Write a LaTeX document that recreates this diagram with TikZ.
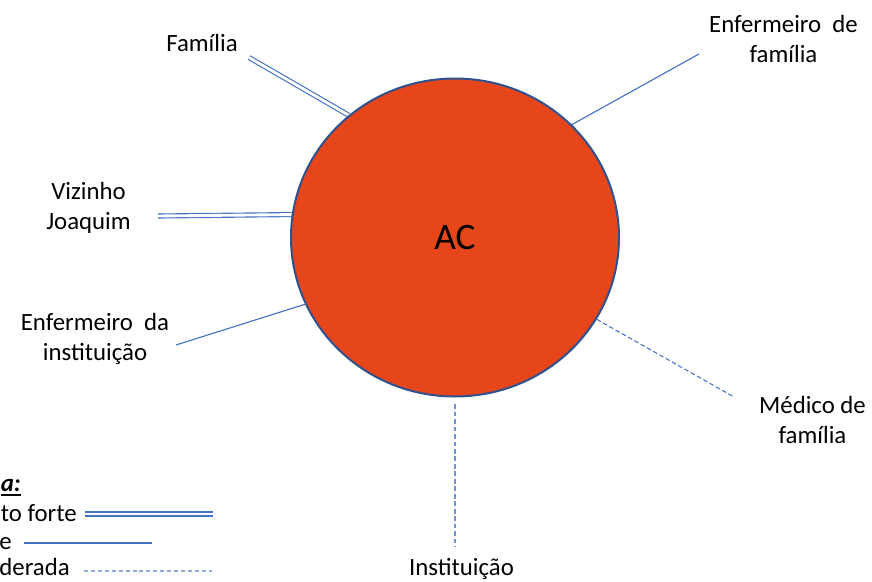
\documentclass[tikz,border=0pt]{standalone}
\usepackage{fontspec}
\setmainfont{Carlito}
\usetikzlibrary{shapes.geometric,backgrounds}
\definecolor{acfill}{RGB}{230,70,26}
\definecolor{acborder}{RGB}{47,82,143}
\definecolor{linkblue}{RGB}{68,114,196}
\definecolor{midblue}{RGB}{114,148,212}
\definecolor{lightblue}{RGB}{143,170,220}
\newcommand\legul[1]{\setbox0\hbox{#1}\rlap{\rule[-3.6pt]{\wd0}{1.4pt}}\box0}
\begin{document}
\begin{tikzpicture}[x=0.75pt,y=-0.75pt,
  lbl/.style={font=\fontsize{18.6}{22.5}\selectfont, align=center, inner sep=0pt},
  tie/.style={draw=linkblue, line width=0.85pt},
  strongtie/.style={draw=linkblue, line width=0.85pt, double=white, double distance=2.15pt},
  weaktie/.style={draw=linkblue, line width=0.8pt, dash pattern=on 3.4pt off 2pt},
  weakvert/.style={draw=midblue, line width=1.4pt, dash pattern=on 3.6pt off 2pt},
  legweakline/.style={draw=lightblue, line width=0.9pt, dash pattern=on 3pt off 2.2pt}]
\useasboundingbox (0,0) rectangle (872,582);

\node[ellipse, draw=acborder, line width=1.5pt, fill=acfill,
      minimum width=246pt, minimum height=238.5pt, inner sep=0pt,
      font=\fontsize{28}{34}\selectfont] (ac) at (455,237.5) {AC};

% labels
\node[lbl, anchor=base] (familia) at (202,51) {Família};
\node[lbl] (vizinho) at (88.5,207.5) {Vizinho\\Joaquim};
\node[lbl] (enfinst) at (95,338.5) {Enfermeiro\ \ da\\instituição};
\node[lbl] (enffam) at (783.5,39) {Enfermeiro\ \ de\\família};
\node[lbl] (medico) at (812.5,419.5) {Médico de\\família};
\node[lbl, anchor=base] (inst) at (461.5,575) {Instituição};

% free ends
\coordinate (famend) at (249,57.5);
\coordinate (vizend) at (158,216);
\coordinate (einend) at (176,345);
\coordinate (efaend) at (699,54);
\coordinate (medend) at (734,397);
\coordinate (insend) at (455,547);

\begin{scope}[on background layer]
  \draw[strongtie] (ac.131.5) -- (famend);
  \draw[strongtie] (ac.172.7) -- (vizend);
  \draw[tie] (ac.204.7) -- (einend);
  \draw[tie] (ac.44) -- (efaend);
  \draw[weaktie] (ac.330.5) -- (medend);
  \draw[weakvert, shorten <=5pt] (ac.south) -- (insend);
\end{scope}

% legend (as printed, cut at the left edge)
\node[lbl, anchor=base east] (legtitle) at (21,491) {\legul{\textbf{\textit{a:}}}};
\node[lbl, anchor=base east] (legstrong) at (77,521) {to forte};
\node[lbl, anchor=base east] (legnormal) at (12,549) {e};
\node[lbl, anchor=base east] (legweak) at (70,575) {derada};
\coordinate (ls1) at (85,514);
\coordinate (ls2) at (213,514);
\coordinate (ln1) at (24,543);
\coordinate (ln2) at (152,543);
\coordinate (lw1) at (84,571);
\coordinate (lw2) at (212,571);
\draw[strongtie] (ls1) -- (ls2);
\draw[tie] (ln1) -- (ln2);
\draw[legweakline] (lw1) -- (lw2);
\end{tikzpicture}
\end{document}
